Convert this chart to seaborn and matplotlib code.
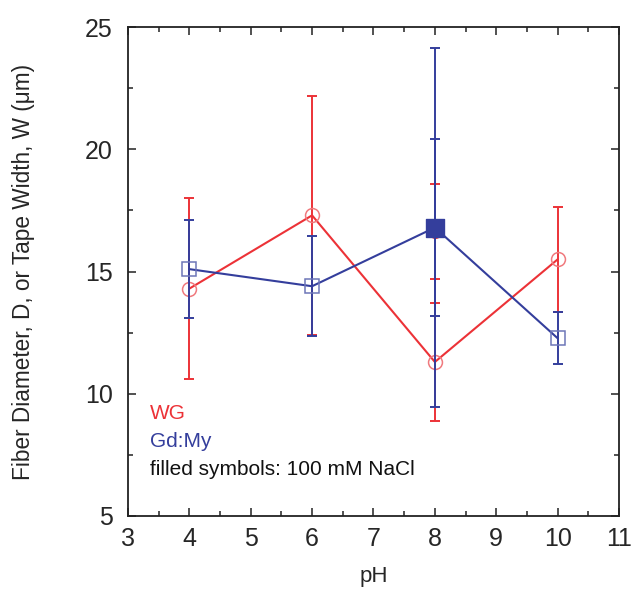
import matplotlib
matplotlib.use("Agg")
import matplotlib.pyplot as plt
from matplotlib.ticker import MultipleLocator
import seaborn as sns
import pandas as pd

# Open symbols (no salt)
ph = [4, 6, 8, 10]
wg_mean = [14.3, 17.3, 11.3, 15.5]
wg_err = [3.7, 4.9, 2.4, 2.15]
gd_mean = [15.1, 14.4, 16.8, 12.27]
gd_err = [2.0, 2.05, 3.62, 1.07]

# Filled symbols (100 mM NaCl)
ph_salt = [8]
wg_salt_mean = [16.65]
wg_salt_err = [1.95]
gd_salt_mean = [16.8]
gd_salt_err = [7.35]

RED = "#EC3237"
BLUE = "#343E9C"

sns.set_style("ticks")
plt.rcParams["font.family"] = ["Liberation Sans", "DejaVu Sans"]

df = pd.DataFrame({
    "pH": ph * 2,
    "W": wg_mean + gd_mean,
    "series": ["WG"] * 4 + ["Gd:My"] * 4,
})

fig = plt.figure(figsize=(6.33, 5.91), dpi=100)
ax = fig.add_axes([0.202, 0.127, 0.776, 0.827])

# error bars (red first, blue on top)
ax.errorbar(ph, wg_mean, yerr=wg_err, fmt="none", ecolor=RED, elinewidth=1.4,
            capsize=3.5, capthick=1.4, zorder=2)
ax.errorbar(ph_salt, wg_salt_mean, yerr=wg_salt_err, fmt="none", ecolor=RED,
            elinewidth=1.4, capsize=3.5, capthick=1.4, zorder=2)

sns.lineplot(data=df[df.series == "WG"], x="pH", y="W", color=RED, lw=1.5,
             marker="o", markersize=10, markerfacecolor="none",
             markeredgecolor="#F07A7E", markeredgewidth=1.1, ax=ax, zorder=3,
             legend=False)
sns.scatterplot(x=ph_salt, y=wg_salt_mean, color=RED, marker="o", s=100,
                edgecolor=RED, ax=ax, zorder=3, legend=False)

ax.errorbar(ph, gd_mean, yerr=gd_err, fmt="none", ecolor=BLUE, elinewidth=1.4,
            capsize=3.5, capthick=1.4, zorder=4)
ax.errorbar(ph_salt, gd_salt_mean, yerr=gd_salt_err, fmt="none", ecolor=BLUE,
            elinewidth=1.4, capsize=3.5, capthick=1.4, zorder=4)

sns.lineplot(data=df[df.series == "Gd:My"], x="pH", y="W", color=BLUE, lw=1.5,
             marker="s", markersize=10, markerfacecolor="none",
             markeredgecolor="#6E76B8", markeredgewidth=1.1, ax=ax, zorder=5,
             legend=False)
sns.scatterplot(x=ph_salt, y=gd_salt_mean, color=BLUE, marker="s", s=150,
                edgecolor=BLUE, ax=ax, zorder=6, legend=False)

ax.set_xlim(3, 11)
ax.set_ylim(5, 25)
ax.xaxis.set_major_locator(MultipleLocator(1))
ax.xaxis.set_minor_locator(MultipleLocator(0.5))
ax.yaxis.set_major_locator(MultipleLocator(5))
ax.yaxis.set_minor_locator(MultipleLocator(2.5))
ax.tick_params(which="both", direction="in", top=True, right=True,
               color="#222222", width=1.1)
ax.tick_params(which="major", length=6, labelsize=18)
ax.tick_params(axis="x", which="major", pad=8)
ax.tick_params(axis="y", which="major", pad=11)
ax.tick_params(which="minor", length=3.5)
for s in ax.spines.values():
    s.set_visible(True)
    s.set_linewidth(1.3)
    s.set_color("#222222")

ax.set_xlabel("pH", fontsize=16, labelpad=11)
ax.set_ylabel("Fiber Diameter, D, or Tape Width, W (\u03bcm)", fontsize=16.3)
ax.yaxis.set_label_coords(-0.19, 0.5)

ax.text(3.36, 9.21, "WG", color=RED, fontsize=15, va="center", ha="left")
ax.text(3.36, 8.06, "Gd:My", color=BLUE, fontsize=15, va="center", ha="left")
ax.text(3.36, 6.91, "filled symbols: 100 mM NaCl", color="#111111",
        fontsize=15, va="center", ha="left")

fig.savefig("out.png", dpi=100)
